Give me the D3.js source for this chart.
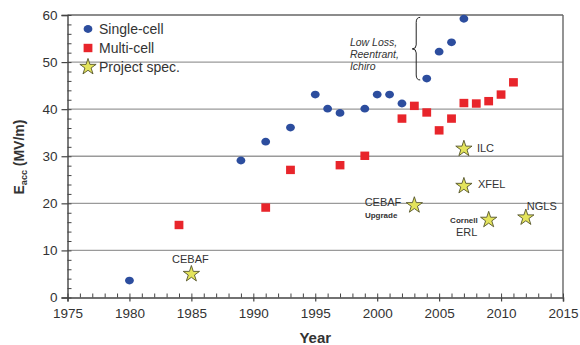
<!DOCTYPE html>
<html>
<head>
<meta charset="utf-8">
<script src="https://cdn.jsdelivr.net/npm/d3@7"></script>
<style>
  body { margin: 0; background: #fff; }
  svg { font-family: "Liberation Sans", Arial, sans-serif; }
</style>
</head>
<body>
<div id="chart"></div>
<script>
// single-cell cavities (year, gradient MV/m)
const singleYears = [1980, 1989, 1991, 1993, 1995, 1996, 1997, 1999, 2000, 2001, 2002, 2004, 2005, 2006, 2007];
const singleVals  = [3.6, 29.1, 33.1, 36.1, 43.1, 40.1, 39.2, 40.1, 43.1, 43.1, 41.2, 46.5, 52.2, 54.2, 59.2];

// multi-cell cavities
const multiYears = [1984, 1991, 1993, 1997, 1999, 2002, 2003, 2004, 2005, 2006, 2007, 2008, 2009, 2010, 2011];
const multiVals  = [15.4, 19.1, 27.1, 28.1, 30.1, 38.0, 40.7, 39.3, 35.5, 38.0, 41.3, 41.2, 41.7, 43.1, 45.7];

// project specifications
const specNames = ["CEBAF", "CEBAF Upgrade", "ILC", "XFEL", "Cornell ERL", "NGLS"];
const specYears = [1985, 2003, 2007, 2007, 2009, 2012];
const specVals  = [5.2, 19.8, 31.8, 23.9, 16.7, 17.2];

const xTicks = [1975, 1980, 1985, 1990, 1995, 2000, 2005, 2010, 2015];
const yTicks = [0, 10, 20, 30, 40, 50, 60];
const legendLabels = ["Single-cell", "Multi-cell", "Project spec."];

const svgWidth = 580, svgHeight = 345;
const margin = { top: 15, right: 17, bottom: 47.5, left: 67.5 };
const width = svgWidth - margin.left - margin.right;
const height = svgHeight - margin.top - margin.bottom;

const blue = '#2c4d9e', red = '#e8252b', starFill = '#e4e45c', starStroke = '#55552a';
const textCol = '#333';

const svg = d3.select('#chart').append('svg')
    .attr('width', svgWidth)
    .attr('height', svgHeight);

const g = svg.append('g')
    .attr('transform', `translate(${margin.left},${margin.top})`);

const xScale = d3.scaleLinear().domain([1975, 2015]).range([0, width]);
const yScale = d3.scaleLinear().domain([0, 60]).range([height, 0]);

// horizontal grid lines
g.selectAll('.grid')
    .data(yTicks.filter(d => d > 0))
    .enter().append('line')
    .attr('x1', 0).attr('x2', width)
    .attr('y1', d => yScale(d)).attr('y2', d => yScale(d))
    .attr('stroke', d => d == 60 ? '#666' : '#9a9a9a')
    .attr('stroke-width', 1.4);

// right border
g.append('line')
    .attr('x1', width).attr('x2', width)
    .attr('y1', 0).attr('y2', height)
    .attr('stroke', '#666').attr('stroke-width', 1.4);

// y axis: major ticks outside, minor ticks inside
const yAxis = d3.axisLeft(yScale).tickValues(yTicks).tickSize(6).tickPadding(4);
const yG = g.append('g').call(yAxis);
yG.select('.domain').attr('stroke', '#444').attr('stroke-width', 1.4);
yG.selectAll('.tick line').attr('stroke', '#444').attr('stroke-width', 1.2);
yG.selectAll('.tick text').attr('fill', textCol).style('font-size', '13.5px');

const yMinorG = g.append('g').call(d3.axisRight(yScale).tickValues(d3.range(0, 61, 2)).tickSize(4).tickFormat(''));
yMinorG.select('.domain').remove();
yMinorG.selectAll('.tick line').attr('stroke', '#444');

// x axis: yearly ticks inside, major ticks also below
const xAxis = d3.axisBottom(xScale).tickValues(xTicks).tickSize(4).tickPadding(7).tickFormat(d3.format('d'));
const xG = g.append('g').attr('transform', `translate(0,${height})`).call(xAxis);
xG.select('.domain').attr('stroke', '#444').attr('stroke-width', 1.4);
xG.selectAll('.tick line').attr('stroke', '#444').attr('stroke-width', 1.2);
xG.selectAll('.tick text').attr('fill', textCol).style('font-size', '13.5px');

const xMinorG = g.append('g').attr('transform', `translate(0,${height})`)
    .call(d3.axisTop(xScale).tickValues(d3.range(1975, 2016, 1)).tickSize(4).tickFormat(''));
xMinorG.select('.domain').remove();
xMinorG.selectAll('.tick line').attr('stroke', '#444');

// axis titles
g.append('text')
    .attr('x', width / 2)
    .attr('y', height + 45)
    .attr('text-anchor', 'middle')
    .attr('fill', textCol)
    .style('font-size', '15px')
    .style('font-weight', 'bold')
    .text('Year');

const yTitle = svg.append('text')
    .attr('transform', 'translate(24,157) rotate(-90)')
    .attr('text-anchor', 'middle')
    .attr('fill', textCol)
    .style('font-size', '14px')
    .style('font-weight', 'bold');
yTitle.append('tspan').text('E');
yTitle.append('tspan').attr('dy', 3).style('font-size', '9px').text('acc');
yTitle.append('tspan').attr('dy', -3).text(' (MV/m)');

// single-cell points
g.selectAll('.single')
    .data(singleYears)
    .enter().append('ellipse')
    .attr('cx', (d, i) => xScale(d))
    .attr('cy', (d, i) => yScale(singleVals[i]))
    .attr('rx', 4.4).attr('ry', 3.9)
    .attr('fill', blue);

// multi-cell points
g.selectAll('.multi')
    .data(multiYears)
    .enter().append('rect')
    .attr('x', d => xScale(d) - 4.4)
    .attr('y', (d, i) => yScale(multiVals[i]) - 4.2)
    .attr('width', 8.8).attr('height', 8.4)
    .attr('fill', red);

// project spec stars
const star = d3.symbol().type(d3.symbolStar).size(82);
g.selectAll('.spec')
    .data(specYears)
    .enter().append('path')
    .attr('d', star)
    .attr('transform', (d, i) => `translate(${xScale(d)},${yScale(specVals[i]) + 1})`)
    .attr('fill', starFill)
    .attr('stroke', starStroke)
    .attr('stroke-width', 0.9);

// star labels
function label(x, y, txt, size, anchor, weight) {
    g.append('text')
        .attr('x', x).attr('y', y)
        .attr('text-anchor', anchor)
        .attr('fill', textCol)
        .style('font-size', size + 'px')
        .style('font-weight', weight || 'normal')
        .text(txt);
}
label(xScale(specYears[0]) - 1, yScale(specVals[0]) - 10, 'CEBAF', 11, 'middle');
label(xScale(specYears[1]) - 13, yScale(specVals[1]) + 2, 'CEBAF', 11, 'end');
label(xScale(specYears[1]) - 17, yScale(specVals[1]) + 14, 'Upgrade', 8, 'end', 'bold');
label(xScale(specYears[2]) + 13, yScale(specVals[2]) + 4, 'ILC', 11, 'start');
label(xScale(specYears[3]) + 14, yScale(specVals[3]) + 3, 'XFEL', 11, 'start');
label(xScale(specYears[4]) - 11, yScale(specVals[4]) + 4, 'Cornell', 8, 'end', 'bold');
label(xScale(specYears[4]) - 22, yScale(specVals[4]) + 17, 'ERL', 11, 'middle');
label(xScale(specYears[5]) + 16, yScale(specVals[5]) - 7, 'NGLS', 11, 'middle');

// annotation with brace
const braceX = xScale(2003.15);
const braceTop = yScale(59.5), braceBot = yScale(46.2), braceMid = yScale(52.8);
g.append('path')
    .attr('d', `M${braceX + 4},${braceTop} Q${braceX},${braceTop} ${braceX},${braceTop + 5}
                L${braceX},${braceMid - 4} Q${braceX},${braceMid} ${braceX - 4},${braceMid}
                Q${braceX},${braceMid} ${braceX},${braceMid + 4}
                L${braceX},${braceBot - 5} Q${braceX},${braceBot} ${braceX + 4},${braceBot}`)
    .attr('fill', 'none')
    .attr('stroke', '#222')
    .attr('stroke-width', 1);

const noteLines = ['Low Loss,', 'Reentrant,', 'Ichiro'];
g.append('g').selectAll('text')
    .data(noteLines)
    .enter().append('text')
    .attr('x', xScale(1997.8))
    .attr('y', (d, i) => 31 + i * 12)
    .attr('fill', textCol)
    .style('font-size', '10.5px')
    .style('font-style', 'italic')
    .text(d => d);

// legend
const legend = svg.append('g').attr('transform', 'translate(88,29)');
legendLabels.forEach((name, i) => {
    const row = legend.append('g').attr('transform', `translate(0,${i * 19})`);
    if (i == 0) row.append('ellipse').attr('rx', 4.4).attr('ry', 3.9).attr('fill', blue);
    if (i == 1) row.append('rect').attr('x', -4.4).attr('y', -4.2).attr('width', 8.8).attr('height', 8.4).attr('fill', red);
    if (i == 2) row.append('path').attr('d', star).attr('fill', starFill).attr('stroke', starStroke).attr('stroke-width', 0.9);
    row.append('text')
        .attr('x', 11)
        .attr('y', 5)
        .attr('fill', textCol)
        .style('font-size', '14px')
        .text(name);
});
</script>
</body>
</html>
